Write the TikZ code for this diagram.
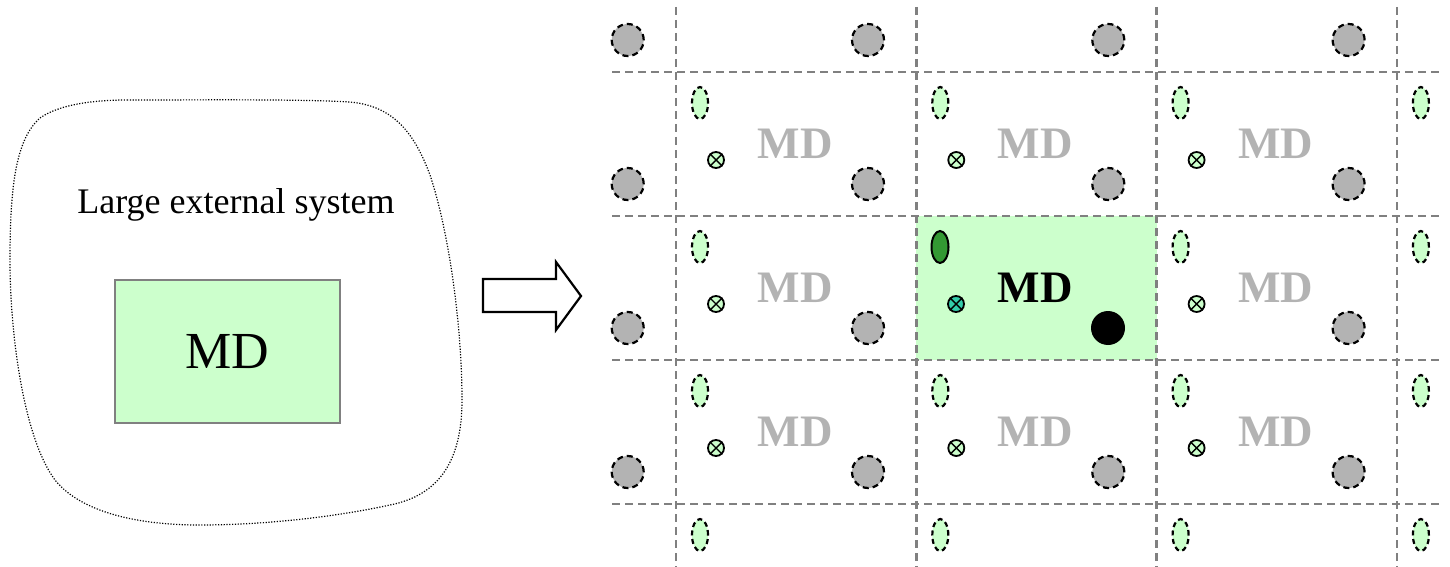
\documentclass[tikz,border=0pt]{standalone}
\usepackage{fontspec}
\setmainfont{Liberation Serif}
\usetikzlibrary{shapes.geometric}
\definecolor{lgreen}{RGB}{204,255,204}
\definecolor{dgreen}{RGB}{51,153,51}
\definecolor{teal2}{RGB}{51,204,170}
\definecolor{gridgray}{RGB}{128,128,128}
\definecolor{atomgray}{RGB}{179,179,179}
\tikzset{
  gridline/.style={draw=gridgray, line width=2.8pt, dash pattern=on 8pt off 5pt},
  imgatom/.style={circle, minimum size=32pt, inner sep=0pt, fill=atomgray, draw=black, line width=2.2pt, dash pattern=on 6pt off 4pt},
  imgmol/.style={ellipse, minimum width=16pt, minimum height=32pt, inner sep=0pt, fill=lgreen, draw=black, line width=2.2pt, dash pattern=on 5pt off 3.5pt},
  crossatom/.style={circle, minimum size=16pt, inner sep=0pt, draw=black, line width=1.8pt},
  mdlabel/.style={font=\fontsize{45}{50}\selectfont\bfseries, inner sep=0pt},
}
\begin{document}
\begin{tikzpicture}[x=1pt, y=-1pt]
\useasboundingbox (0,0) rectangle (1450,567);

% ---------- left: MD region embedded in a large system ----------
\draw[black, line width=1.2pt, dash pattern=on 1.2pt off 1.6pt]
  (127,100) .. controls (200,100) and (300,99) .. (350,102)
            .. controls (395,106) and (415,135) .. (430,175)
            .. controls (450,235) and (462,330) .. (462,400)
            .. controls (462,460) and (440,495) .. (390,505)
            .. controls (330,518) and (260,525) .. (200,525)
            .. controls (120,525) and (75,505) .. (55,480)
            .. controls (25,440) and (10,340) .. (10,260)
            .. controls (10,190) and (15,140) .. (40,118)
            .. controls (60,104) and (95,100) .. (127,100) -- cycle;
\node[font=\fontsize{36}{40}\selectfont, anchor=base, inner sep=0pt] (ext) at (236,213) {Large external system};
\node[draw=gridgray, line width=1.8pt, fill=lgreen, minimum width=225pt, minimum height=143pt, inner sep=0pt,
      font=\fontsize{52}{56}\selectfont] (mdbox) at (227.5,351.5) {MD};

% ---------- block arrow ----------
\draw[black, line width=2.2pt, fill=white, line join=miter]
  (483,279) -- (556,279) -- (556,262) -- (581,296) -- (556,330) -- (556,312) -- (483,312) -- cycle;

% ---------- right: periodic images ----------
% central simulation cell
\fill[lgreen] (916.3,216) rectangle (1156.6,360);

% cell boundaries
\foreach \yy in {72,216,360,504}
  \draw[gridline] (612,\yy) -- (1443,\yy);
\foreach \xx in {676,916.3,1156.6,1396.9}
  \draw[gridline] (\xx,7) -- (\xx,567);

% image atoms (grey discs)
\foreach \i in {-1,...,2}
  \foreach \j in {-1,...,2} {
    \ifnum\numexpr\i*10+\j\relax=11 \else
      \node[imgatom] (atom\i\j) at ({676+240.3*\i+192},{72+144*\j+112}) {};
    \fi
  }

% image molecules (ellipses)
\foreach \i in {0,...,3}
  \foreach \j in {0,...,3} {
    \ifnum\numexpr\i*10+\j\relax=11 \else
      \node[imgmol] (mol\i\j) at ({676+240.3*\i+24},{72+144*\j+31}) {};
    \fi
  }

% image crossed atoms and MD labels
\foreach \i in {0,...,2}
  \foreach \j in {0,...,2} {
    \ifnum\numexpr\i*10+\j\relax=11 \else
      \node[crossatom, fill=lgreen] (x\i\j) at ({676+240.3*\i+40},{72+144*\j+88}) {};
      \draw[black, line width=1.4pt] (x\i\j.north east) -- (x\i\j.south west)
                                     (x\i\j.north west) -- (x\i\j.south east);
      \node[mdlabel, text=atomgray] (md\i\j) at ({676+240.3*\i+119},{72+144*\j+72}) {MD};
    \fi
  }

% contents of the central cell
\node[ellipse, minimum width=17pt, minimum height=32pt, inner sep=0pt, fill=dgreen, draw=black, line width=2pt] (mol) at (940,247) {};
\node[crossatom, fill=teal2] (xc) at (956,304) {};
\draw[black, line width=1.4pt] (xc.north east) -- (xc.south west) (xc.north west) -- (xc.south east);
\node[mdlabel, text=black] (md) at (1035,288) {MD};
\node[circle, fill=black, minimum size=34pt, inner sep=0pt] (atom) at (1108,328) {};
\end{tikzpicture}
\end{document}
